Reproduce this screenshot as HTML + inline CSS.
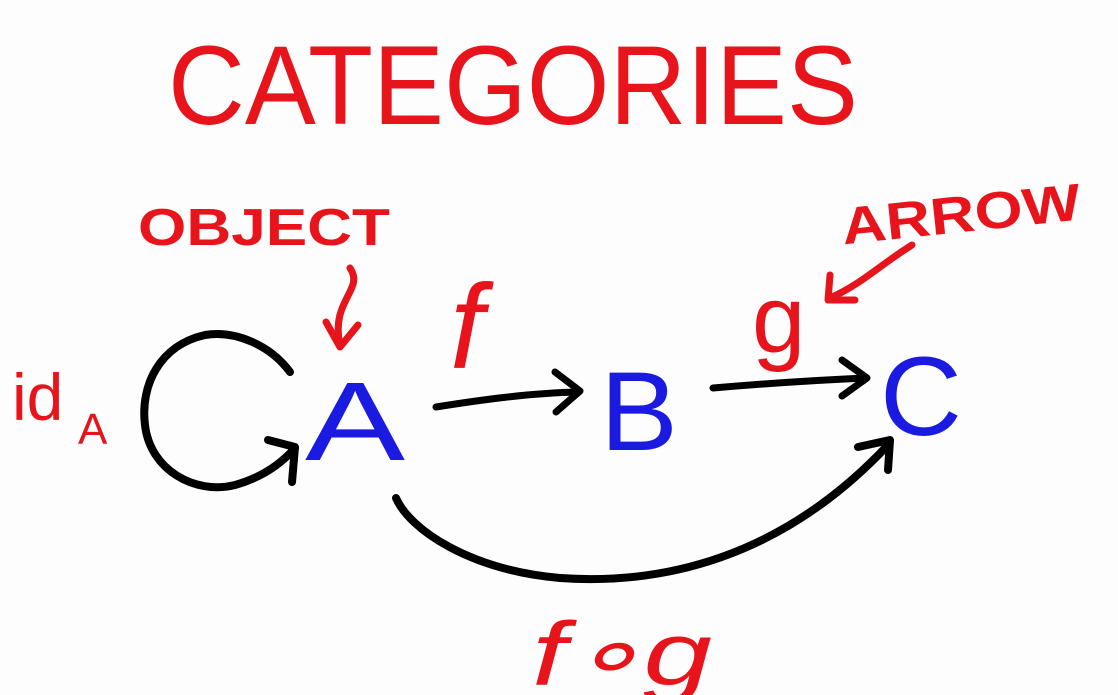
<!DOCTYPE html>
<html><head><meta charset="utf-8"><style>
html,body{margin:0;padding:0;background:#fdfdfd;}
svg{display:block}
text{font-family:"Liberation Sans",sans-serif;}
</style></head><body>
<svg width="1118" height="695" viewBox="0 0 1118 695" xmlns="http://www.w3.org/2000/svg">
<rect width="1118" height="695" fill="#fdfdfd"/>
<g fill="none" stroke-linecap="round" stroke-linejoin="round">
<path d="M290 372 C270 345 235 330 205 335 C160 345 140 385 145 425 C150 470 195 495 235 485 C260 478 280 465 295 448" stroke="#000" stroke-width="8"/>
<path d="M268 440 L295 447 L292 482" stroke="#000" stroke-width="8"/>
<path d="M436 407 C480 400 530 393 578 392" stroke="#000" stroke-width="7"/>
<path d="M555 372 L580 391 L556 412" stroke="#000" stroke-width="7"/>
<path d="M713 388 C760 384 820 380 866 378" stroke="#000" stroke-width="7"/>
<path d="M842 360 L867 378 L842 396" stroke="#000" stroke-width="7"/>
<path d="M396 498 C410 530 470 570 560 578 C660 585 780 560 888 445" stroke="#000" stroke-width="8"/>
<path d="M858 447 L890 440 L888 470" stroke="#000" stroke-width="8"/>
<path d="M350 268 C365 290 330 300 340 345" stroke="#e8141b" stroke-width="7"/>
<path d="M326 322 L340 347 L358 325" stroke="#e8141b" stroke-width="7"/>
<path d="M912 245 C880 265 860 285 830 298" stroke="#e8141b" stroke-width="7"/>
<path d="M830 275 L828 300 L855 300" stroke="#e8141b" stroke-width="7"/>
</g>
<g fill="#e8141b">
<text x="168" y="124" font-size="112" textLength="690" lengthAdjust="spacingAndGlyphs">CATEGORIES</text>
<text x="138" y="245" font-size="52" font-weight="bold" textLength="252" lengthAdjust="spacingAndGlyphs">OBJECT</text>
<text x="840" y="232" font-size="52" font-weight="bold" textLength="240" lengthAdjust="spacingAndGlyphs" transform="rotate(-6 960 205)">ARROW</text>
<text x="450" y="368" font-size="120" font-style="italic">f</text>
<text x="752" y="352" font-size="96">g</text>
<text x="12" y="420" font-size="66">id</text>
<text x="78" y="444" font-size="44">A</text>
<text x="532" y="685" font-size="90" font-style="italic" textLength="180" lengthAdjust="spacingAndGlyphs">f∘g</text>
</g>
<g fill="#1a1ae0">
<text x="305" y="460" font-size="112" textLength="100" lengthAdjust="spacingAndGlyphs">A</text>
<text x="600" y="450" font-size="112" textLength="78" lengthAdjust="spacingAndGlyphs">B</text>
<text x="880" y="435" font-size="112" textLength="82" lengthAdjust="spacingAndGlyphs">C</text>
</g>
</svg>
</body></html>
